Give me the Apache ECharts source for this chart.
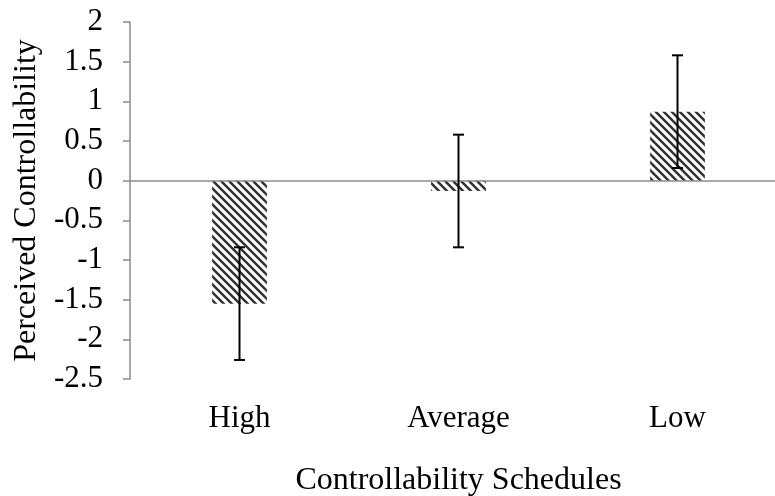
<!DOCTYPE html>
<html>
<head>
<meta charset="utf-8">
<style>
  html, body { margin: 0; padding: 0; background: #ffffff; }
  #chart { width: 775px; height: 496px; }
</style>
<script src="https://cdn.jsdelivr.net/npm/echarts@6/dist/echarts.min.js"></script>
</head>
<body>
<div id="chart"></div>
<script>
// Perceived controllability by controllability schedule (mean ± error)
const categories = ['High', 'Average', 'Low'];
const means = [-1.55, -0.13, 0.87];
const errors = [0.71, 0.71, 0.71];
const yTicks = { min: -2.5, max: 2, interval: 0.5 };

const FONT = '"Liberation Serif", "Times New Roman", serif';
const AXIS_GREY = '#8c8c8c';
const FONT_SIZE = 31;
const NAME_SIZE = 32;

// Diagonal hatch fill (lines running top-left to bottom-right)
function makeHatch() {
  const size = 8;
  const c = document.createElement('canvas');
  c.width = size; c.height = size;
  const ctx = c.getContext('2d');
  ctx.fillStyle = '#ffffff';
  ctx.fillRect(0, 0, size, size);
  ctx.strokeStyle = '#333333';
  ctx.lineWidth = 2.5;
  ctx.beginPath();
  ctx.moveTo(-2, -2); ctx.lineTo(size + 2, size + 2);
  ctx.moveTo(-2, size - 2); ctx.lineTo(2, size + 2);
  ctx.moveTo(size - 2, -2); ctx.lineTo(size + 2, 2);
  ctx.stroke();
  return c;
}

const chart = echarts.init(document.getElementById('chart'), null, { renderer: 'canvas' });

const errorData = means.map((m, i) => [i, m - errors[i], m + errors[i]]);

chart.setOption({
  animation: false,
  backgroundColor: '#ffffff',
  textStyle: { fontFamily: FONT },
  grid: { left: 130, top: 22, bottom: 117, right: -12, containLabel: false, outerBoundsMode: 'none' },
  xAxis: {
    type: 'category',
    data: categories,
    axisLine: { show: false, onZero: false },
    axisTick: { show: false },
    axisLabel: { color: '#000', fontFamily: FONT, fontSize: FONT_SIZE, margin: 24 },
    name: 'Controllability Schedules',
    nameLocation: 'middle',
    nameGap: 86,
    nameTextStyle: { color: '#000', fontFamily: FONT, fontSize: NAME_SIZE }
  },
  yAxis: {
    type: 'value',
    min: yTicks.min,
    max: yTicks.max,
    interval: yTicks.interval,
    splitLine: { show: false },
    axisLine: { show: true, lineStyle: { color: AXIS_GREY, width: 1.5 } },
    axisTick: { show: true, length: 7, lineStyle: { color: AXIS_GREY, width: 1.5 } },
    axisLabel: { color: '#000', fontFamily: FONT, fontSize: FONT_SIZE, margin: 27 },
    name: 'Perceived Controllability',
    nameLocation: 'middle',
    nameGap: 84,
    nameRotate: 90,
    nameTextStyle: { color: '#000', fontFamily: FONT, fontSize: NAME_SIZE }
  },
  series: [
    {
      type: 'bar',
      data: means,
      barWidth: '25%',
      itemStyle: { color: { image: makeHatch(), repeat: 'repeat' } },
      markLine: {
        silent: true,
        symbol: 'none',
        label: { show: false },
        lineStyle: { color: AXIS_GREY, width: 1.5, type: 'solid' },
        data: [{ yAxis: 0 }]
      },
      z: 2
    },
    {
      type: 'custom',
      data: errorData,
      z: 5,
      renderItem: function (params, api) {
        const x = api.value(0);
        const lo = api.coord([x, api.value(1)]);
        const hi = api.coord([x, api.value(2)]);
        const cap = 5.5;
        const style = { stroke: '#000', lineWidth: 2 };
        return {
          type: 'group',
          children: [
            { type: 'line', shape: { x1: hi[0], y1: hi[1], x2: lo[0], y2: lo[1] }, style: style },
            { type: 'line', shape: { x1: hi[0] - cap, y1: hi[1], x2: hi[0] + cap, y2: hi[1] }, style: style },
            { type: 'line', shape: { x1: lo[0] - cap, y1: lo[1], x2: lo[0] + cap, y2: lo[1] }, style: style }
          ]
        };
      }
    }
  ]
});
</script>
</body>
</html>
